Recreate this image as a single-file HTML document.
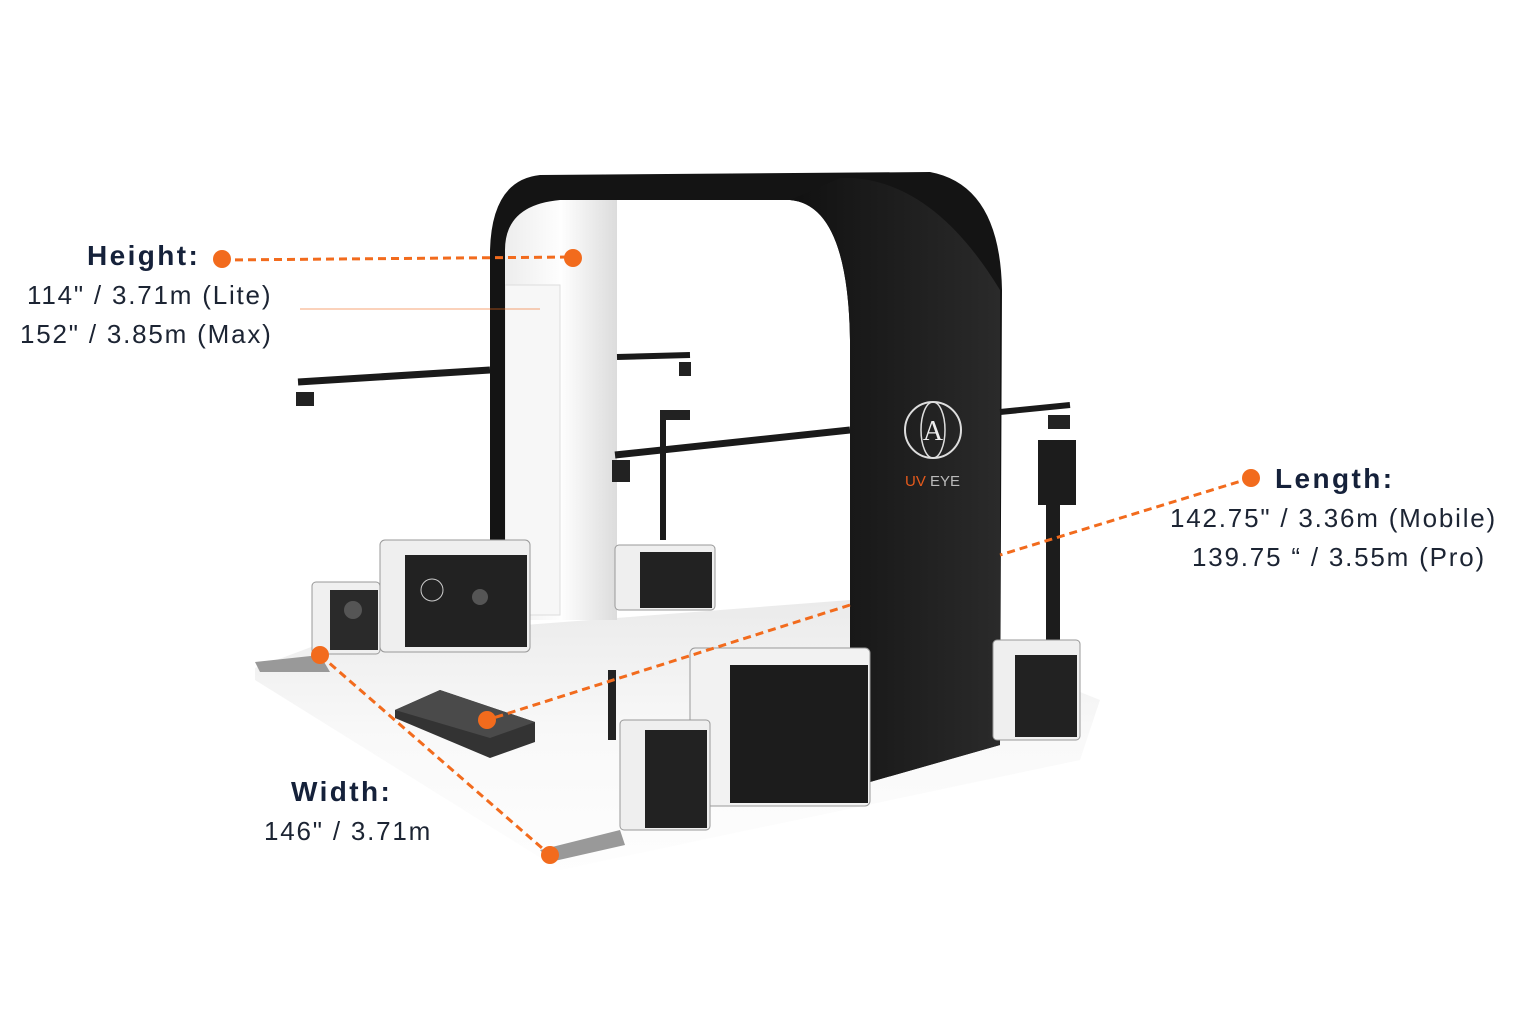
<!DOCTYPE html>
<html><head><meta charset="utf-8"><style>
html,body{margin:0;padding:0;background:#fff;}
body{width:1536px;height:1024px;position:relative;overflow:hidden;font-family:"Liberation Sans",sans-serif;color:#1c2433;}
.t{position:absolute;white-space:nowrap;font-size:26px;line-height:30px;letter-spacing:1.8px;}
.b{font-weight:bold;font-size:28px;letter-spacing:2.4px;color:#15213a;}
svg{position:absolute;left:0;top:0;}
</style></head><body>
<svg width="1536" height="1024" viewBox="0 0 1536 1024">
<defs>
<linearGradient id="fl" x1="0" y1="0" x2="0" y2="1"><stop offset="0" stop-color="#e2e2e2"/><stop offset="0.5" stop-color="#f6f6f6"/><stop offset="1" stop-color="#fdfdfd"/></linearGradient>
<linearGradient id="gw" x1="0" y1="0" x2="1" y2="0"><stop offset="0" stop-color="#ededed"/><stop offset="0.5" stop-color="#fefefe"/><stop offset="1" stop-color="#dcdcdc"/></linearGradient>
<linearGradient id="pil" x1="0" y1="0" x2="1" y2="0"><stop offset="0" stop-color="#111"/><stop offset="1" stop-color="#2a2a2a"/></linearGradient>
</defs>
<polygon points="255,668 330,640 850,600 1100,700 1080,760 560,870 255,680" fill="url(#fl)" opacity="0.7"/>
<polygon points="255,662 320,655 330,672 260,672" fill="#999"/>
<polygon points="540,850 620,830 625,845 550,862" fill="#999"/>
<rect x="505" y="200" width="112" height="420" fill="url(#gw)"/>
<rect x="505" y="285" width="55" height="330" fill="#f7f7f7" stroke="#ddd" stroke-width="1"/>
<path d="M490,640 L490,250 Q492,180 540,175 L930,172 Q1000,185 1002,290 L1000,745 L870,782 L850,775 L850,340 Q848,205 790,200 L560,200 Q505,205 505,250 L505,640 Z" fill="#141414"/>
<path d="M850,340 Q848,205 790,200 L840,178 Q930,175 1000,290 L1000,745 L870,782 L850,775 Z" fill="url(#pil)"/>
<circle cx="933" cy="430" r="28" fill="none" stroke="#ddd" stroke-width="2"/>
<ellipse cx="933" cy="430" rx="12" ry="28" fill="none" stroke="#ddd" stroke-width="1.5"/>
<text x="933" y="440" font-family="Liberation Serif" font-size="28" fill="#eee" text-anchor="middle">A</text>
<text x="905" y="486" font-size="15" fill="#e55a1c" font-family="Liberation Sans">UV</text><text x="930" y="486" font-size="15" fill="#bbb">EYE</text>
<path d="M298,382 L490,370" stroke="#1a1a1a" stroke-width="7"/>
<rect x="296" y="392" width="18" height="14" fill="#222"/>
<path d="M617,357 L690,355" stroke="#1a1a1a" stroke-width="6"/>
<rect x="679" y="362" width="12" height="14" fill="#222"/>
<path d="M615,455 L850,430" stroke="#1a1a1a" stroke-width="7"/>
<rect x="612" y="460" width="18" height="22" fill="#222"/>
<path d="M663,420 L663,540" stroke="#1a1a1a" stroke-width="6"/>
<rect x="660" y="410" width="30" height="10" fill="#222"/>
<path d="M1000,412 L1070,405" stroke="#1a1a1a" stroke-width="6"/>
<rect x="1048" y="415" width="22" height="14" fill="#222"/>
<rect x="1038" y="440" width="38" height="65" fill="#1c1c1c"/>
<rect x="1046" y="505" width="14" height="155" fill="#1c1c1c"/>
<rect x="312" y="582" width="68" height="72" rx="4" fill="#f0f0f0" stroke="#999"/>
<rect x="330" y="590" width="48" height="60" fill="#2a2a2a"/>
<circle cx="353" cy="610" r="9" fill="#555"/>
<rect x="380" y="540" width="150" height="112" rx="5" fill="#efefef" stroke="#999"/>
<rect x="405" y="555" width="122" height="92" fill="#222"/>
<circle cx="432" cy="590" r="11" fill="none" stroke="#ccc"/><circle cx="480" cy="597" r="8" fill="#555"/>
<rect x="615" y="545" width="100" height="65" rx="4" fill="#efefef" stroke="#999"/>
<rect x="640" y="552" width="72" height="56" fill="#222"/>
<rect x="690" y="648" width="180" height="158" rx="5" fill="#f2f2f2" stroke="#999"/>
<rect x="730" y="665" width="138" height="138" fill="#1c1c1c"/>
<rect x="620" y="720" width="90" height="110" rx="4" fill="#efefef" stroke="#999"/>
<rect x="645" y="730" width="62" height="98" fill="#222"/>
<rect x="608" y="670" width="8" height="70" fill="#222"/>
<rect x="993" y="640" width="87" height="100" rx="4" fill="#efefef" stroke="#999"/>
<rect x="1015" y="655" width="62" height="82" fill="#222"/>
<polygon points="395,710 440,690 535,722 535,742 490,758 395,718" fill="#333"/>
<polygon points="395,710 440,690 535,722 490,738" fill="#4a4a4a"/>
<g stroke="#f26b1d" stroke-width="3" stroke-dasharray="8,5" fill="none">
<path d="M222,260 L573,257"/>
<path d="M1251,478 L1000,555"/>
<path d="M850,605 L487,720"/>
<path d="M320,655 L550,855"/>
</g>
<path d="M300,309 L540,309" stroke="#f26b1d" stroke-width="1" opacity="0.6"/>
<g fill="#f26b1d">
<circle cx="222" cy="259" r="9"/><circle cx="573" cy="258" r="9"/>
<circle cx="1251" cy="478" r="9"/><circle cx="487" cy="720" r="9"/>
<circle cx="320" cy="655" r="9"/><circle cx="550" cy="855" r="9"/>
</g>
</svg>
<div class="t b" style="left:87px;top:241px">Height:</div>
<div class="t" style="left:27px;top:280px">114" / 3.71m (Lite)</div>
<div class="t" style="left:20px;top:319px">152" / 3.85m (Max)</div>
<div class="t b" style="left:1275px;top:464px">Length:</div>
<div class="t" style="left:1170px;top:503px">142.75" / 3.36m (Mobile)</div>
<div class="t" style="left:1192px;top:542px">139.75 “ / 3.55m (Pro)</div>
<div class="t b" style="left:291px;top:777px">Width:</div>
<div class="t" style="left:264px;top:816px">146" / 3.71m</div>
</body></html>
